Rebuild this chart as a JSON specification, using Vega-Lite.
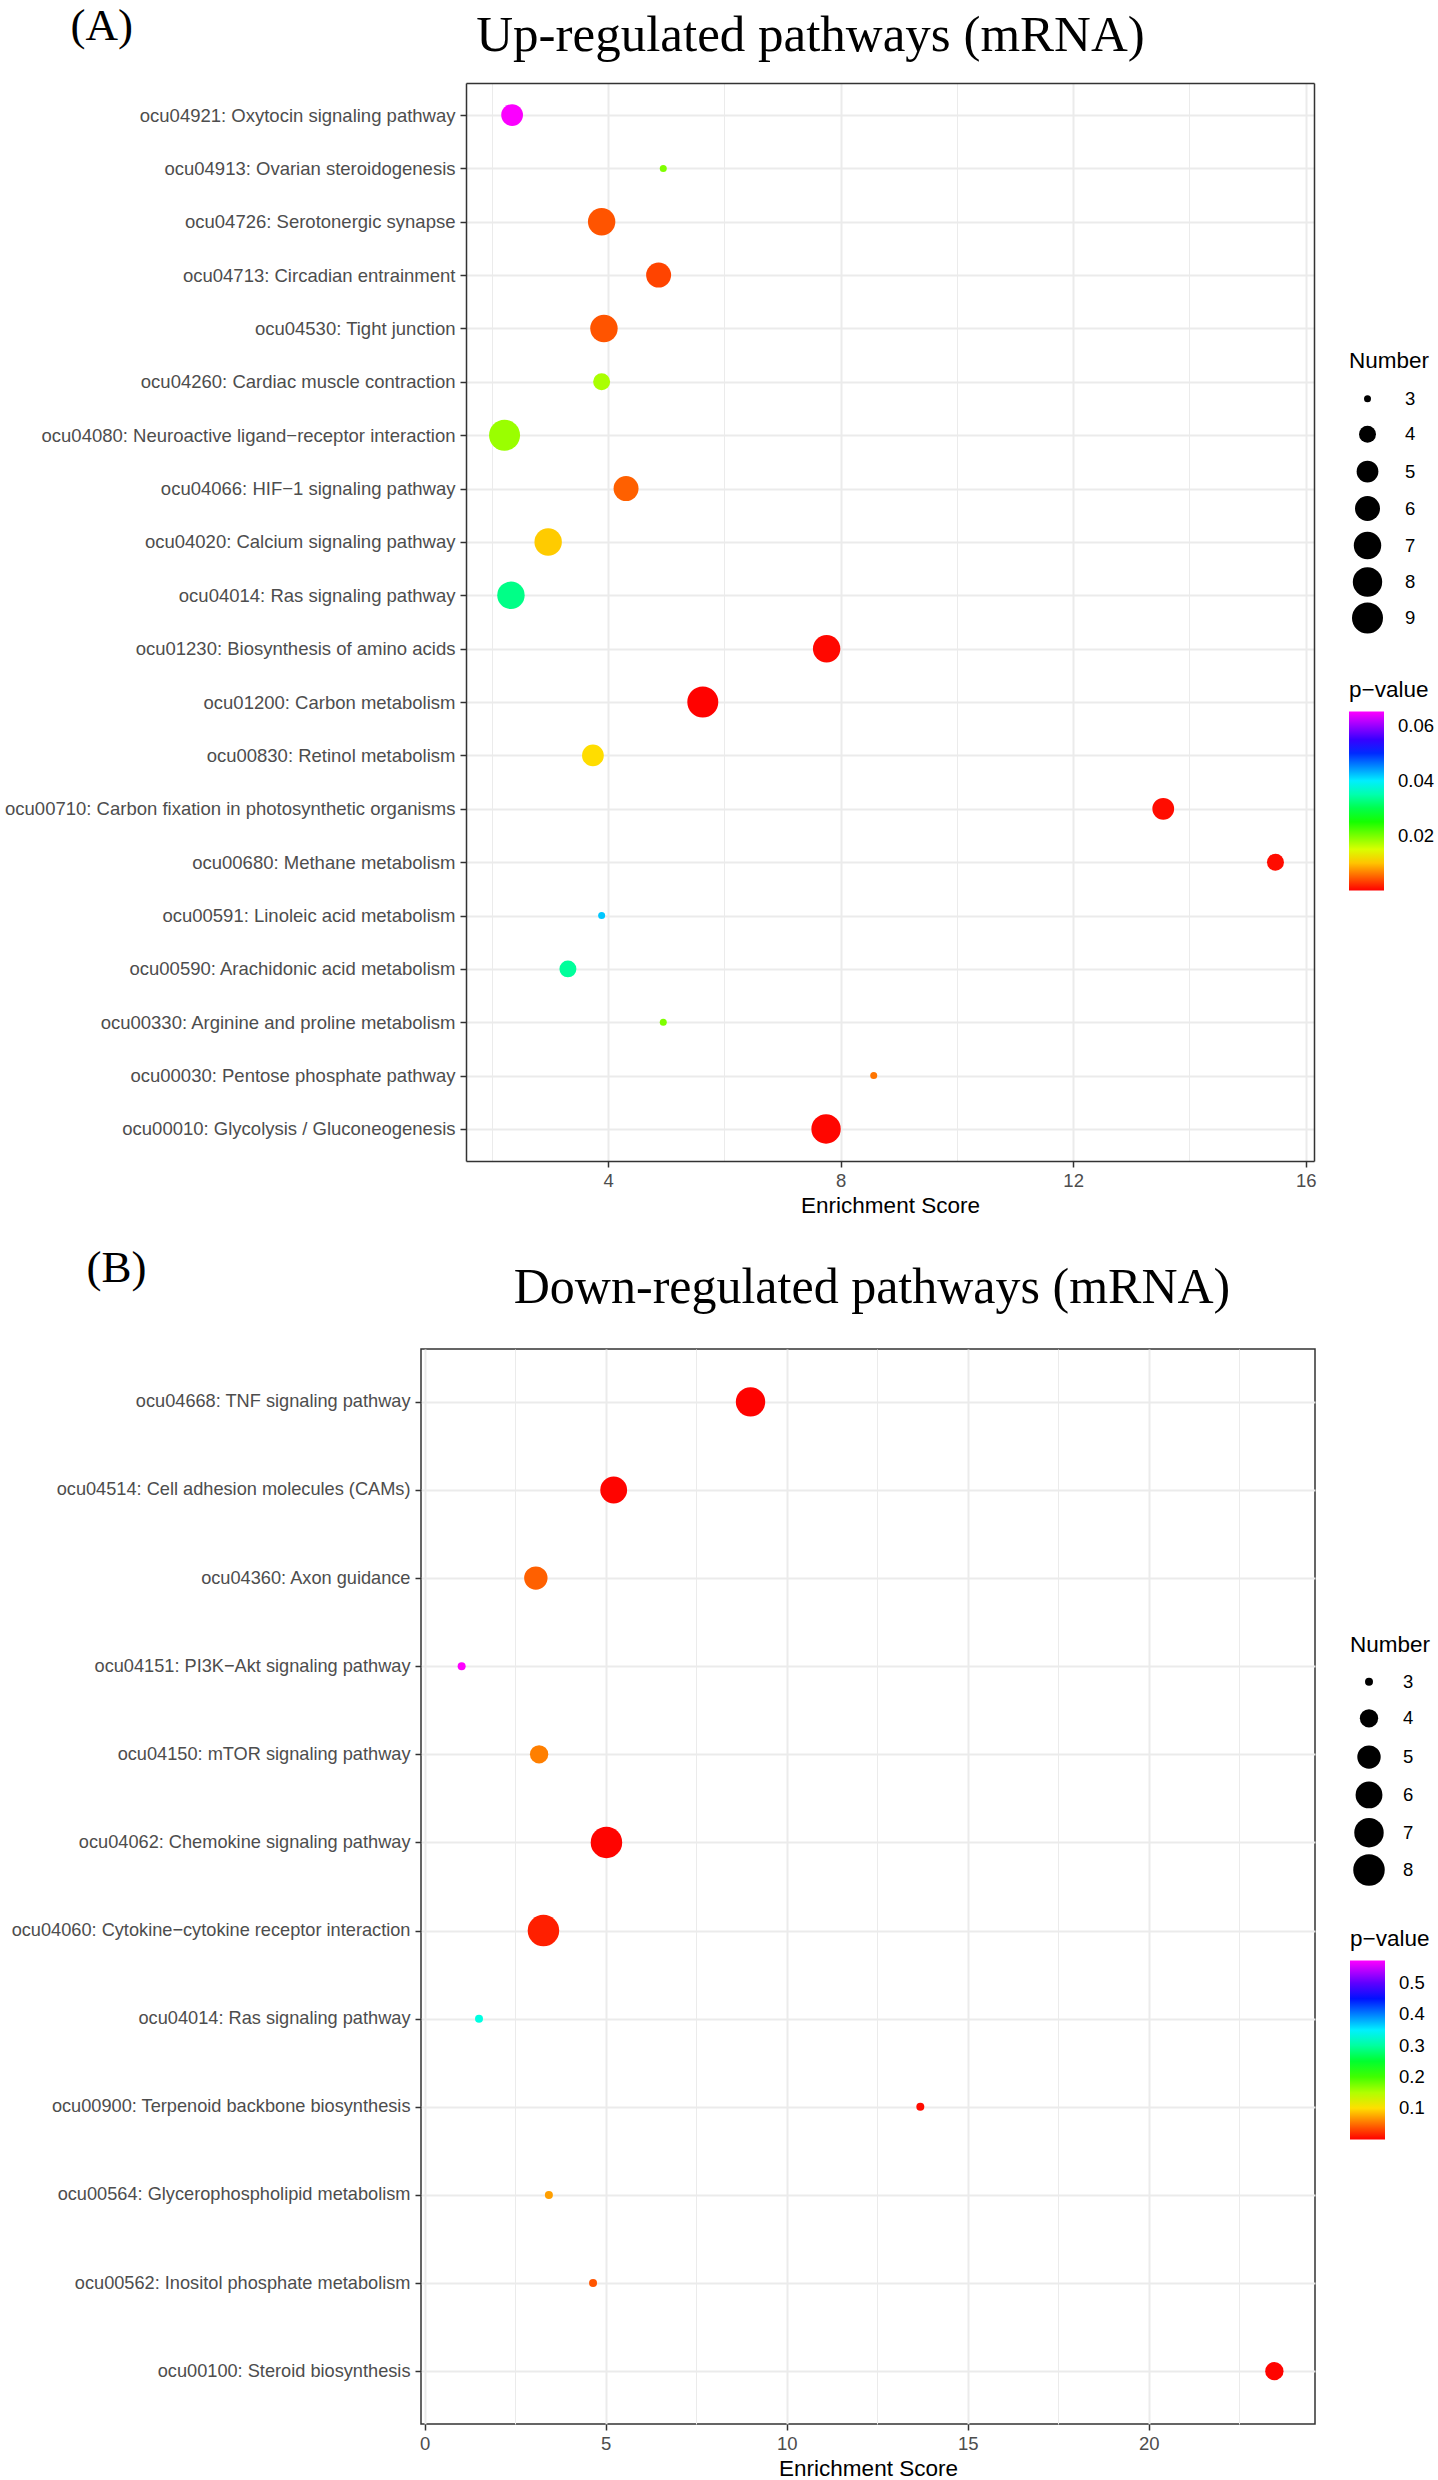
{
  "$schema": "https://vega.github.io/schema/vega-lite/v6.json",
  "background": "white",
  "padding": {"left": 4, "top": 3, "right": 0, "bottom": 0},
  "spacing": 27,
  "config": {
    "view": {"stroke": "#333333", "strokeWidth": 1.5},
    "axis": {
      "labelFont": "Liberation Sans", "labelFontSize": 18.5, "labelColor": "#4D4D4D", "labelLimit": 0,
      "tickColor": "#333333", "tickWidth": 1.5, "tickSize": 6, "domain": false,
      "gridColor": "#EBEBEB", "gridWidth": 2,
      "titleFont": "Liberation Sans", "titleFontSize": 22.5, "titleFontWeight": "normal", "titleColor": "#000000"
    },
    "legend": {
      "titleFont": "Liberation Sans", "titleFontSize": 22.5, "titleFontWeight": "normal", "titleColor": "#000000",
      "labelFont": "Liberation Sans", "labelFontSize": 18.5, "labelColor": "#000000"
    },
    "title": {"font": "Liberation Serif", "fontWeight": "normal", "color": "#000000"}
  },
  "resolve": {
    "scale": {"x": "independent", "y": "independent", "color": "independent", "size": "independent"},
    "legend": {"color": "independent", "size": "independent"}
  },
  "vconcat": [
    {
      "width": 893,
      "height": 1078,
      "view": {"stroke": null},
      "title": {"text": "Up-regulated pathways (mRNA)", "fontSize": 51, "anchor": "middle", "frame": "group", "dx": -57, "baseline": "alphabetic", "offset": -99},
      "data": {"values": [
        {"pathway": "ocu04921: Oxytocin signaling pathway", "score": 2.35, "number": 5, "pvalue": 0.065},
        {"pathway": "ocu04913: Ovarian steroidogenesis", "score": 4.95, "number": 3, "pvalue": 0.0196},
        {"pathway": "ocu04726: Serotonergic synapse", "score": 3.89, "number": 7, "pvalue": 0.0043},
        {"pathway": "ocu04713: Circadian entrainment", "score": 4.87, "number": 6, "pvalue": 0.0035},
        {"pathway": "ocu04530: Tight junction", "score": 3.93, "number": 7, "pvalue": 0.0043},
        {"pathway": "ocu04260: Cardiac muscle contraction", "score": 3.89, "number": 4, "pvalue": 0.0174},
        {"pathway": "ocu04080: Neuroactive ligand\u2212receptor interaction", "score": 2.22, "number": 9, "pvalue": 0.0182},
        {"pathway": "ocu04066: HIF\u22121 signaling pathway", "score": 4.31, "number": 6, "pvalue": 0.0049},
        {"pathway": "ocu04020: Calcium signaling pathway", "score": 2.97, "number": 7, "pvalue": 0.0104},
        {"pathway": "ocu04014: Ras signaling pathway", "score": 2.33, "number": 7, "pvalue": 0.033},
        {"pathway": "ocu01230: Biosynthesis of amino acids", "score": 7.76, "number": 7, "pvalue": 0.0004},
        {"pathway": "ocu01200: Carbon metabolism", "score": 5.63, "number": 9, "pvalue": 0.0001},
        {"pathway": "ocu00830: Retinol metabolism", "score": 3.74, "number": 5, "pvalue": 0.0113},
        {"pathway": "ocu00710: Carbon fixation in photosynthetic organisms", "score": 13.55, "number": 5, "pvalue": 0.0006},
        {"pathway": "ocu00680: Methane metabolism", "score": 15.48, "number": 4, "pvalue": 0.0006},
        {"pathway": "ocu00591: Linoleic acid metabolism", "score": 3.89, "number": 3, "pvalue": 0.042},
        {"pathway": "ocu00590: Arachidonic acid metabolism", "score": 3.31, "number": 4, "pvalue": 0.034},
        {"pathway": "ocu00330: Arginine and proline metabolism", "score": 4.95, "number": 3, "pvalue": 0.0196},
        {"pathway": "ocu00030: Pentose phosphate pathway", "score": 8.57, "number": 3, "pvalue": 0.006},
        {"pathway": "ocu00010: Glycolysis / Gluconeogenesis", "score": 7.75, "number": 8, "pvalue": 0.0003}
      ]},
      "layer": [
        {
          "mark": {"type": "circle", "opacity": 1},
          "encoding": {
            "y": {
              "field": "pathway", "type": "nominal", "sort": null,
              "scale": {"type": "point", "padding": 0.6},
              "axis": {"title": "(A)", "titleFont": "Liberation Serif", "titleFontSize": 45, "titleAngle": 0, "titleAlign": "left", "titleBaseline": "alphabetic", "titleX": -396, "titleY": -44, "grid": true, "labelPadding": 5, "offset": -45, "domain": true, "domainColor": "#333333", "domainWidth": 1.5}
            },
            "x": {
              "field": "score", "type": "quantitative",
              "scale": {"domain": [1.557, 16.143], "range": [45, 893], "nice": false, "zero": false},
              "axis": {
                "title": "Enrichment Score", "values": [2, 4, 6, 8, 10, 12, 14, 16],
                "labelExpr": "datum.value % 4 === 0 ? datum.label : ''",
                "gridWidth": {"condition": {"test": "datum.value % 4 === 0", "value": 2}, "value": 1},
                "tickOpacity": {"condition": {"test": "datum.value % 4 === 0", "value": 1}, "value": 0},
                "labelPadding": 4, "titlePadding": 5, "domain": true, "domainColor": "#333333", "domainWidth": 1.5
              }
            },
            "size": {
              "field": "number", "type": "quantitative", "title": "Number",
              "scale": {"type": "log", "domain": [3, 9], "range": [49, 961]},
              "legend": {"values": [3, 4, 5, 6, 7, 8, 9], "orient": "none", "legendX": 928, "legendY": 267, "symbolFillColor": "#000000", "symbolStrokeWidth": 0, "symbolType": "circle", "symbolOffset": 3, "labelOffset": 22, "rowPadding": 4.5, "gridAlign": "all", "titlePadding": 17, "format": "d"}
            },
            "color": {
              "field": "pvalue", "type": "quantitative", "title": "p\u2212value",
              "scale": {"domain": [0, 0.01304, 0.02608, 0.03912, 0.05216, 0.0652], "range": ["#FF0000", "#FFFF00", "#00FF00", "#00FFFF", "#0000FF", "#FF00FF"], "interpolate": "rgb"},
              "legend": {"values": [0.02, 0.04, 0.06], "format": ".2f", "orient": "none", "legendX": 928, "legendY": 596, "gradientLength": 179, "gradientThickness": 35, "gradientStrokeWidth": 0, "labelOffset": 14, "titlePadding": 10, "direction": "vertical"}
            }
          }
        },
        {
          "mark": {"type": "circle", "opacity": 0},
          "encoding": {
            "y": {"field": "pathway", "type": "nominal", "sort": null, "axis": {"orient": "right", "domain": true, "domainColor": "#333333", "domainWidth": 1.5, "labels": false, "ticks": false, "grid": false, "title": null}},
            "x": {"field": "score", "type": "quantitative", "axis": {"orient": "top", "domain": true, "domainColor": "#333333", "domainWidth": 1.5, "labels": false, "ticks": false, "grid": false, "title": null}}
          }
        }
      ],
      "resolve": {"axis": {"x": "independent", "y": "independent"}}
    },
    {
      "width": 894,
      "height": 1075,
      "title": {"text": "Down-regulated pathways (mRNA)", "fontSize": 50, "anchor": "middle", "frame": "group", "dx": 4, "baseline": "alphabetic", "offset": -108},
      "data": {"values": [
        {"pathway": "ocu04668: TNF signaling pathway", "score": 9.0, "number": 7, "pvalue": 0.001},
        {"pathway": "ocu04514: Cell adhesion molecules (CAMs)", "score": 5.22, "number": 6, "pvalue": 0.002},
        {"pathway": "ocu04360: Axon guidance", "score": 3.07, "number": 5, "pvalue": 0.043},
        {"pathway": "ocu04151: PI3K\u2212Akt signaling pathway", "score": 1.02, "number": 3, "pvalue": 0.572},
        {"pathway": "ocu04150: mTOR signaling pathway", "score": 3.16, "number": 4, "pvalue": 0.057},
        {"pathway": "ocu04062: Chemokine signaling pathway", "score": 5.02, "number": 8, "pvalue": 0.002},
        {"pathway": "ocu04060: Cytokine\u2212cytokine receptor interaction", "score": 3.28, "number": 8, "pvalue": 0.014},
        {"pathway": "ocu04014: Ras signaling pathway", "score": 1.5, "number": 3, "pvalue": 0.33},
        {"pathway": "ocu00900: Terpenoid backbone biosynthesis", "score": 13.69, "number": 3, "pvalue": 0.005},
        {"pathway": "ocu00564: Glycerophospholipid metabolism", "score": 3.43, "number": 3, "pvalue": 0.0715},
        {"pathway": "ocu00562: Inositol phosphate metabolism", "score": 4.65, "number": 3, "pvalue": 0.038},
        {"pathway": "ocu00100: Steroid biosynthesis", "score": 23.47, "number": 4, "pvalue": 0.002}
      ]},
      "mark": {"type": "circle", "opacity": 1},
      "encoding": {
        "y": {
          "field": "pathway", "type": "nominal", "sort": null,
          "scale": {"type": "point", "padding": 0.6},
          "axis": {"title": "(B)", "titleFont": "Liberation Serif", "titleFontSize": 45, "titleAngle": 0, "titleAlign": "left", "titleBaseline": "alphabetic", "titleX": -335, "titleY": -68, "grid": true, "labelPadding": 5, "labelFontSize": 18.2}
        },
        "x": {
          "field": "score", "type": "quantitative",
          "scale": {"domain": [-0.1025, 24.5925], "nice": false, "zero": false},
          "axis": {
            "title": "Enrichment Score", "values": [0, 2.5, 5, 7.5, 10, 12.5, 15, 17.5, 20, 22.5],
            "labelExpr": "datum.value % 5 === 0 ? datum.label : ''",
            "gridWidth": {"condition": {"test": "datum.value % 5 === 0", "value": 2}, "value": 1},
            "tickOpacity": {"condition": {"test": "datum.value % 5 === 0", "value": 1}, "value": 0},
            "labelPadding": 4, "titlePadding": 5
          }
        },
        "size": {
          "field": "number", "type": "quantitative", "title": "Number",
          "scale": {"type": "log", "domain": [3, 8], "range": [64, 992]},
          "legend": {"values": [3, 4, 5, 6, 7, 8], "orient": "none", "legendX": 929, "legendY": 285, "symbolFillColor": "#000000", "symbolStrokeWidth": 0, "symbolType": "circle", "symbolOffset": 3, "labelOffset": 18, "rowPadding": 4.3, "gridAlign": "all", "titlePadding": 16, "format": "d"}
        },
        "color": {
          "field": "pvalue", "type": "quantitative", "title": "p\u2212value",
          "scale": {"domain": [0, 0.1144, 0.2288, 0.3432, 0.4576, 0.572], "range": ["#FF0000", "#FFFF00", "#00FF00", "#00FFFF", "#0000FF", "#FF00FF"], "interpolate": "rgb"},
          "legend": {"values": [0.1, 0.2, 0.3, 0.4, 0.5], "format": ".1f", "orient": "none", "legendX": 929, "legendY": 579, "gradientLength": 179, "gradientThickness": 35, "gradientStrokeWidth": 0, "labelOffset": 14, "titlePadding": 10, "direction": "vertical"}
        }
      }
    }
  ]
}
